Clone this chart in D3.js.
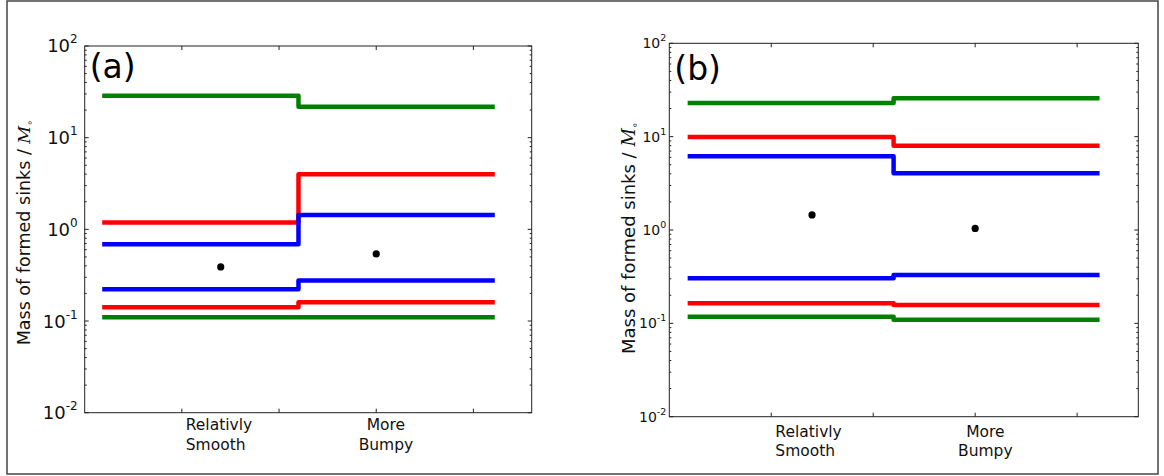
<!DOCTYPE html>
<html>
<head>
<meta charset="utf-8">
<script src="https://cdn.jsdelivr.net/npm/d3@7"></script>
<style>
  html, body { margin: 0; padding: 0; background: #fff; }
  svg { display: block; font-family: "DejaVu Sans", sans-serif; }
</style>
</head>
<body>
<svg id="fig" width="1164" height="476"></svg>
<script>
// Category labels along the x axis (two lines each)
const categories = [["Relativly", "Smooth"], ["More", "Bumpy"]];
const categoryX = [1.04, 3.1];
const xTickValues = [1, 2, 3, 4];
const yTickExponents = [-2, -1, 0, 1, 2];

// Step lines: value on the smooth side, then on the bumpy side
const stepX = [0.18, 2.2, 4.22];
const dotX = [1.4, 3.0];

// Panel (a)
const aGreenHigh = [28.7, 21.8];
const aGreenLow  = [0.110, 0.110];
const aRedHigh   = [1.19, 3.99];
const aRedLow    = [0.141, 0.160];
const aBlueHigh  = [0.687, 1.43];
const aBlueLow   = [0.222, 0.276];
const aDots      = [0.389, 0.539];

// Panel (b)
const bGreenHigh = [22.9, 25.8];
const bGreenLow  = [0.118, 0.109];
const bRedHigh   = [9.92, 8.0];
const bRedLow    = [0.164, 0.157];
const bBlueHigh  = [6.16, 4.05];
const bBlueLow   = [0.304, 0.330];
const bDots      = [1.45, 1.04];

const svg = d3.select("#fig");

// outer frame
svg.append("rect")
  .attr("x", 7).attr("y", 1).attr("width", 1151).attr("height", 473)
  .attr("fill", "none").attr("stroke", "#444").attr("stroke-width", 1.5);

function drawPanel(cfg) {
  const g = svg.append("g");
  const x = d3.scaleLinear().domain([0, 4.6]).range([cfg.left, cfg.right]);
  const y = d3.scaleLog().domain([0.01, 100]).range([cfg.bottom, cfg.top]);

  // series
  const series = [
    { v: cfg.greenHigh, c: "#008000" },
    { v: cfg.greenLow,  c: "#008000" },
    { v: cfg.redHigh,   c: "#ff0000" },
    { v: cfg.redLow,    c: "#ff0000" },
    { v: cfg.blueHigh,  c: "#0000ff" },
    { v: cfg.blueLow,   c: "#0000ff" }
  ];
  const line = d3.line()
    .x(d => x(d[0])).y(d => y(d[1]))
    .curve(d3.curveStepAfter);
  series.forEach(s => {
    const pts = [[stepX[0], s.v[0]], [stepX[1], s.v[1]], [stepX[2], s.v[1]]];
    g.append("path").attr("d", line(pts))
      .attr("fill", "none").attr("stroke", s.c)
      .attr("stroke-width", 4.5).attr("stroke-linejoin", "round");
  });

  g.selectAll("circle.dot").data(cfg.dots).enter().append("circle")
    .attr("class", "dot")
    .attr("cx", (d, i) => x(dotX[i])).attr("cy", d => y(d))
    .attr("r", 3.6).attr("fill", "#000");

  // frame
  g.append("rect")
    .attr("x", cfg.left).attr("y", cfg.top)
    .attr("width", cfg.right - cfg.left).attr("height", cfg.bottom - cfg.top)
    .attr("fill", "none").attr("stroke", "#222").attr("stroke-width", 1);

  // y ticks (inward, both sides), major + minor
  const ticks = [];
  yTickExponents.forEach(e => {
    ticks.push({ v: Math.pow(10, e), major: true });
    if (e < 2) for (let k = 2; k <= 9; k++) ticks.push({ v: k * Math.pow(10, e), major: false });
  });
  ticks.forEach(t => {
    const yy = y(t.v);
    const len = t.major ? 4 : 2;
    g.append("line").attr("x1", cfg.left).attr("x2", cfg.left + len)
      .attr("y1", yy).attr("y2", yy).attr("stroke", "#222").attr("stroke-width", 1);
    g.append("line").attr("x1", cfg.right).attr("x2", cfg.right - len)
      .attr("y1", yy).attr("y2", yy).attr("stroke", "#222").attr("stroke-width", 1);
  });

  // x ticks (inward, top and bottom)
  xTickValues.forEach(v => {
    const xx = x(v);
    g.append("line").attr("x1", xx).attr("x2", xx)
      .attr("y1", cfg.bottom).attr("y2", cfg.bottom - 4).attr("stroke", "#222");
    g.append("line").attr("x1", xx).attr("x2", xx)
      .attr("y1", cfg.top).attr("y2", cfg.top + 4).attr("stroke", "#222");
  });

  // y tick labels 10^n
  yTickExponents.forEach(e => {
    const yy = y(Math.pow(10, e));
    const t = g.append("text")
      .attr("x", cfg.left - cfg.labelGap).attr("y", yy + cfg.tickFont * 0.36)
      .attr("text-anchor", "end").attr("font-size", cfg.tickFont).attr("fill", "#111");
    t.append("tspan").text("10");
    t.append("tspan").attr("font-size", cfg.supFont).attr("dy", -cfg.supShift).text(String(e));
  });

  // category labels
  categories.forEach((lines, i) => {
    const t = g.append("text")
      .attr("font-size", cfg.catFont).attr("fill", "#111")
      .attr("text-anchor", i === 0 ? "start" : "middle");
    lines.forEach((ln, j) => {
      t.append("tspan").attr("x", x(categoryX[i]))
        .attr("y", cfg.catBaseline + j * cfg.catLineGap).text(ln);
    });
  });

  // y axis title
  const yl = g.append("text")
    .attr("transform", `translate(${cfg.ylabelX},${cfg.ylabelY}) rotate(-90)`)
    .attr("text-anchor", "middle").attr("font-size", cfg.ylabelFont).attr("fill", "#111");
  yl.append("tspan").text("Mass of formed sinks / ");
  yl.append("tspan").attr("font-family", "DejaVu Serif, serif").attr("font-style", "italic").text("M");
  yl.append("tspan").attr("font-size", cfg.ylabelFont * 0.55).attr("dy", 3)
    .attr("font-family", "DejaVu Sans, sans-serif").text("∘");

  // panel letter
  g.append("text").attr("x", cfg.left + 5).attr("y", cfg.letterBaseline)
    .attr("font-size", 33).attr("fill", "#000").text(cfg.letter);
}

drawPanel({
  left: 84.7, right: 531.7, top: 46, bottom: 412.7,
  greenHigh: aGreenHigh, greenLow: aGreenLow, redHigh: aRedHigh, redLow: aRedLow,
  blueHigh: aBlueHigh, blueLow: aBlueLow, dots: aDots,
  tickFont: 18, supFont: 12, supShift: 9, labelGap: 7,
  catFont: 15.5, catBaseline: 430, catLineGap: 19.5,
  ylabelX: 30, ylabelY: 232.5, ylabelFont: 17.5,
  letter: "(a)", letterBaseline: 78
});

drawPanel({
  left: 669.3, right: 1138.3, top: 43.3, bottom: 416.7,
  greenHigh: bGreenHigh, greenLow: bGreenLow, redHigh: bRedHigh, redLow: bRedLow,
  blueHigh: bBlueHigh, blueLow: bBlueLow, dots: bDots,
  tickFont: 14, supFont: 9.5, supShift: 7, labelGap: 3,
  catFont: 15.5, catBaseline: 436.7, catLineGap: 19.3,
  ylabelX: 635, ylabelY: 238, ylabelFont: 18,
  letter: "(b)", letterBaseline: 80
});
</script>
</body>
</html>
